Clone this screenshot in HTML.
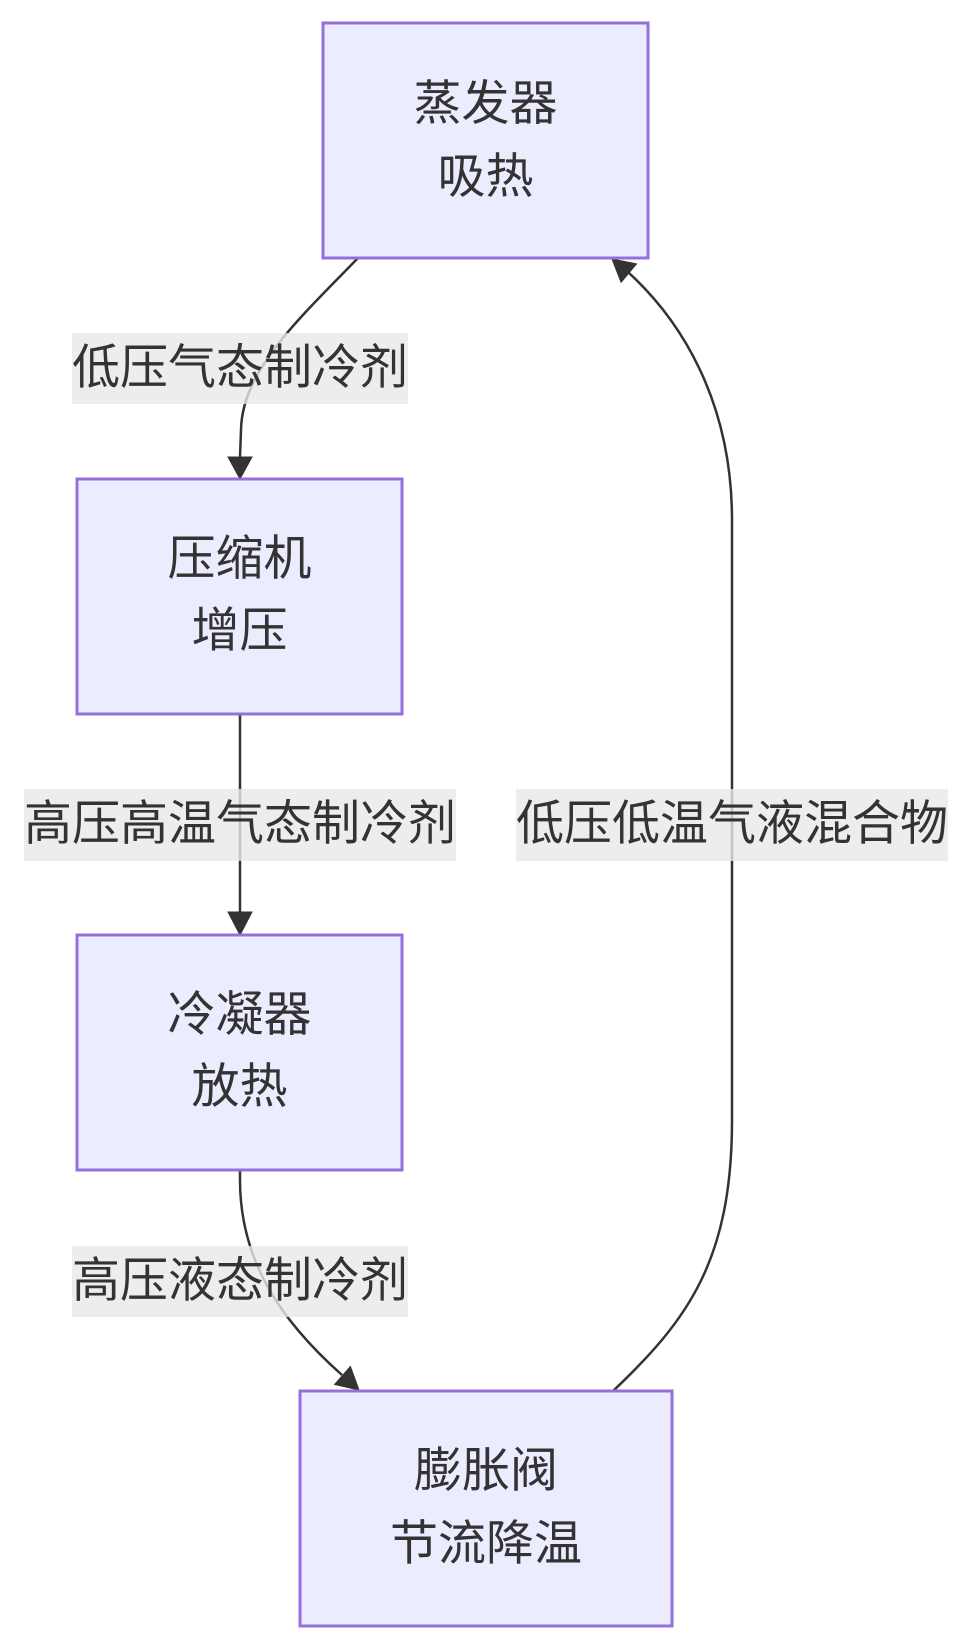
<!DOCTYPE html>
<html>
<head>
<meta charset="utf-8">
<style>
  html, body { margin: 0; padding: 0; background: #ffffff; }
  body { width: 972px; height: 1650px; overflow: hidden; }
  svg { display: block; }
  text { font-family: "Liberation Sans", "Noto Sans CJK SC", sans-serif; font-size: 48px; fill: #333333; }
</style>
</head>
<body>
<svg width="972" height="1650" viewBox="0 0 972 1650" xmlns="http://www.w3.org/2000/svg">
  <rect x="0" y="0" width="972" height="1650" fill="#ffffff"/>

  <!-- Edges -->
  <g fill="none" stroke="#333333" stroke-width="2.5">
    <!-- Evaporator -> Compressor -->
    <path d="M358,258 C300,318 242,370 241,430 L240,457"/>
    <!-- Compressor -> Condenser -->
    <path d="M240,714 L240,912"/>
    <!-- Condenser -> Expansion valve -->
    <path d="M240,1170 L240,1180 C240,1260 280,1320 342,1375"/>
    <!-- Expansion valve -> Evaporator -->
    <path d="M613,1391 C688,1320 732,1260 732,1120 L732,520 C732,400 680,320 629,273"/>
  </g>
  <g fill="#333333" stroke="#333333" stroke-width="1">
    <polygon points="240,479 228,457 252,457"/>
    <polygon points="240,935 228,912 252,912"/>
    <polygon points="359,1390 334.6,1384.5 350.4,1366.5"/>
    <polygon points="612,259 636.5,263.9 621.1,282.3"/>
  </g>

  <!-- Edge labels -->
  <rect x="72" y="333" width="336" height="71" fill="rgba(232,232,232,0.8)"/>
  <text x="240" y="368" text-anchor="middle" dominant-baseline="central">低压气态制冷剂</text>

  <rect x="24" y="789" width="432" height="72" fill="rgba(232,232,232,0.8)"/>
  <text x="240" y="824" text-anchor="middle" dominant-baseline="central">高压高温气态制冷剂</text>

  <rect x="516" y="789" width="432" height="72" fill="rgba(232,232,232,0.8)"/>
  <text x="732" y="824" text-anchor="middle" dominant-baseline="central">低压低温气液混合物</text>

  <rect x="72" y="1246" width="336" height="71" fill="rgba(232,232,232,0.8)"/>
  <text x="240" y="1281" text-anchor="middle" dominant-baseline="central">高压液态制冷剂</text>

  <!-- Nodes -->
  <g fill="#ECECFF" stroke="#9370DB" stroke-width="3">
    <rect x="323" y="23" width="325" height="235"/>
    <rect x="77" y="479" width="325" height="235"/>
    <rect x="77" y="935" width="325" height="235"/>
    <rect x="300" y="1391" width="372" height="235"/>
  </g>

  <text x="485.5" y="104" text-anchor="middle" dominant-baseline="central">蒸发器</text>
  <text x="485.5" y="177" text-anchor="middle" dominant-baseline="central">吸热</text>

  <text x="239.5" y="559" text-anchor="middle" dominant-baseline="central">压缩机</text>
  <text x="239.5" y="631" text-anchor="middle" dominant-baseline="central">增压</text>

  <text x="239.5" y="1015" text-anchor="middle" dominant-baseline="central">冷凝器</text>
  <text x="239.5" y="1087" text-anchor="middle" dominant-baseline="central">放热</text>

  <text x="486" y="1471" text-anchor="middle" dominant-baseline="central">膨胀阀</text>
  <text x="486" y="1544" text-anchor="middle" dominant-baseline="central">节流降温</text>
</svg>
</body>
</html>
